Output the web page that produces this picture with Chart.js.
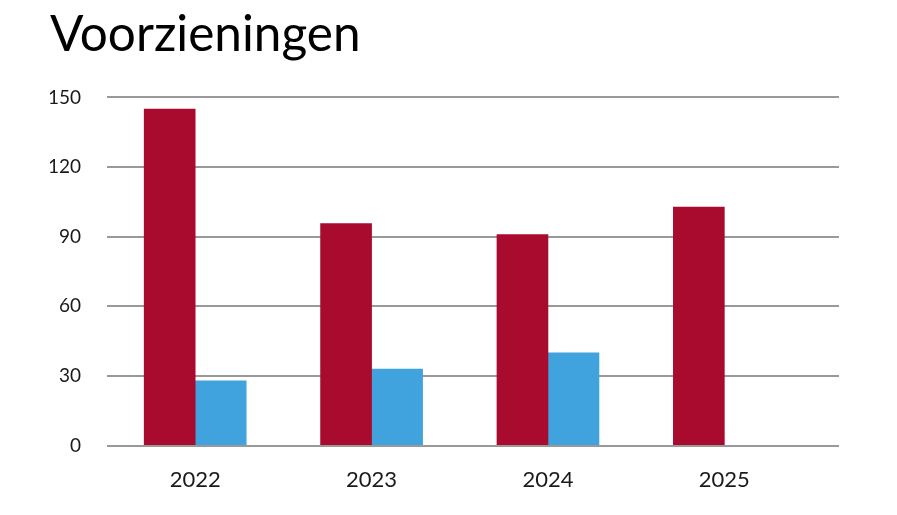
<!DOCTYPE html>
<html>
<head>
<meta charset="utf-8">
<script src="https://cdn.jsdelivr.net/npm/chart.js@4/dist/chart.umd.min.js"></script>
<style>
  html, body { margin: 0; padding: 0; background: #ffffff; }
  #wrap { width: 897px; height: 515px; }
</style>
</head>
<body>
<div id="wrap"><canvas id="c" width="897" height="515"></canvas></div>
<script>
const categories = ['2022', '2023', '2024', '2025'];
const seriesRed = [145, 95.6, 90.9, 102.7];
const seriesBlue = [27.9, 33, 40, null];
const yTicks = [0, 30, 60, 90, 120, 150];

new Chart(document.getElementById('c'), {
  type: 'bar',
  data: {
    labels: categories,
    datasets: [
      { label: 'Reeks 1', data: seriesRed, backgroundColor: '#a90b2f', barThickness: 51 },
      { label: 'Reeks 2', data: seriesBlue, backgroundColor: '#41a3dd', barThickness: 51 }
    ]
  },
  options: {
    responsive: false,
    animation: false,
    layout: { padding: { left: 50, right: 58, top: 0, bottom: 9 } },
    plugins: {
      legend: { display: false },
      tooltip: { enabled: false },
      title: {
        display: true,
        text: 'Voorzieningen',
        align: 'start',
        color: '#000000',
        font: { family: 'Lato', size: 49.5, weight: 'normal' },
        padding: { top: 5, bottom: 33 }
      }
    },
    scales: {
      x: {
        grid: { display: false },
        border: { display: false },
        ticks: {
          color: '#1a1a1a',
          padding: 13,
          font: { family: 'Lato', size: 22 }
        },
        afterBuildTicks: (scale) => { scale._valueRange = 4.15; }
      },
      y: {
        min: 0,
        max: 150,
        afterBuildTicks: (scale) => { scale.ticks = yTicks.map(v => ({ value: v })); },
        afterFit: (scale) => { scale.width = 57; },
        grid: { color: '#999999', lineWidth: 2, drawTicks: false },
        border: { display: false },
        ticks: {
          color: '#1a1a1a',
          padding: 26,
          font: { family: 'Lato', size: 19 }
        }
      }
    }
  }
});
</script>
</body>
</html>
